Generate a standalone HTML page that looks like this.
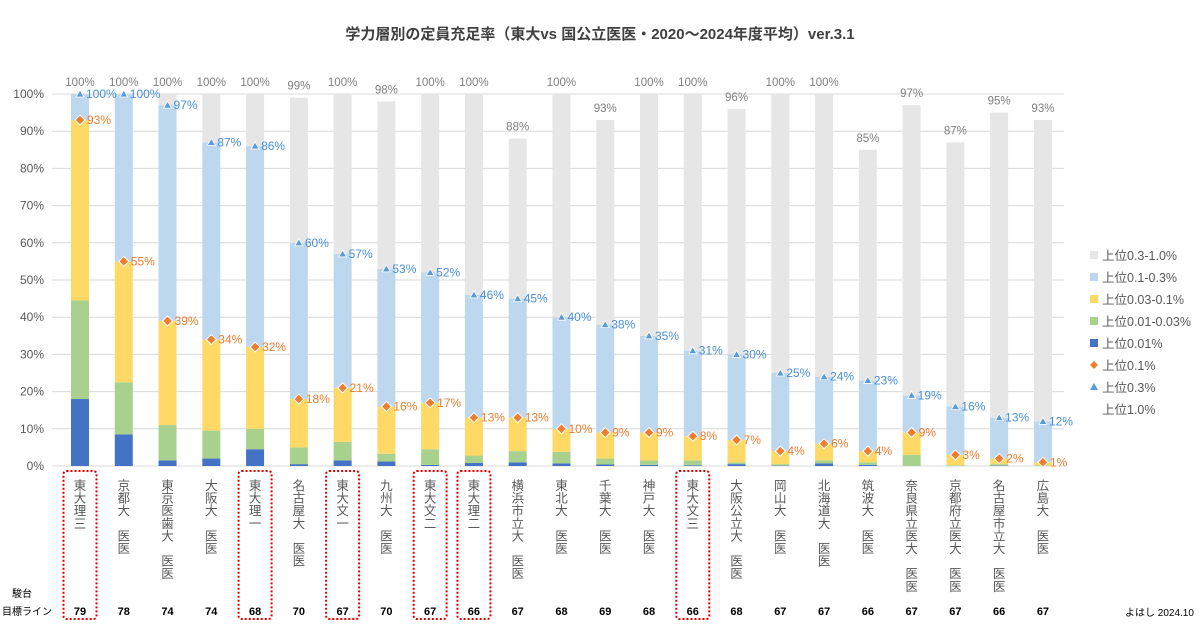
<!DOCTYPE html>
<html><head><meta charset="utf-8"><style>
body{margin:0;background:#fff;}
svg text{font-family:"Liberation Sans","Noto Sans CJK JP",sans-serif;}
</style></head><body>
<svg id="c" width="1200" height="628" xmlns="http://www.w3.org/2000/svg">
<rect x="0" y="0" width="1200" height="628" fill="#fff"/>
<text x="600" y="39" text-anchor="middle" font-size="15" font-weight="bold" fill="#404040">学力層別の定員充足率（東大vs 国公立医医・2020〜2024年度平均）ver.3.1</text>
<g id="grid"></g><g id="bars"></g><g id="labels"></g><g id="legend"></g>
<text x="22" y="597" font-size="10" fill="#000" text-anchor="middle">駿台</text>
<text x="2" y="615" font-size="10" fill="#000">目標ライン</text>
<text x="1125" y="616" font-size="10" fill="#000">よはし 2024.10</text>
</svg>
<script>
const categories=["東大理三","京都大　医医","東京医歯大　医医","大阪大　医医","東大理一","名古屋大　医医","東大文一","九州大　医医","東大文二","東大理二","横浜市立大　医医","東北大　医医","千葉大　医医","神戸大　医医","東大文三","大阪公立大　医医","岡山大　医医","北海道大　医医","筑波大　医医","奈良県立医大　医医","京都府立医大　医医","名古屋市立大　医医","広島大　医医"];
const top001=[18,8.5,1.5,2,4.5,0.5,1.5,1.2,0.3,0.8,1,0.7,0.4,0.3,0.2,0.5,0.1,0.7,0.3,0,0,0.1,0];
const top003=[44.5,22.5,11,9.5,10,5,6.5,3.3,4.5,2.8,4,3.8,2,1.5,1.5,1,0.5,1.5,1,3,0.2,0.5,0.2];
const top01=[93,55,39,34,32,18,21,16,17,13,13,10,9,9,8,7,4,6,4,9,3,2,1];
const top03=[100,100,97,87,86,60,57,53,52,46,45,40,38,35,31,30,25,24,23,19,16,13,12];
const top10=[100,100,100,100,100,99,100,98,100,100,88,100,93,100,100,96,100,100,85,97,87,95,93];
const sundai=[79,78,74,74,68,70,67,70,67,66,67,68,69,68,66,68,67,67,66,67,67,66,67];
const highlighted=[true,false,false,false,true,false,true,false,true,true,false,false,false,false,true,false,false,false,false,false,false,false,false];
const yTicks=[0,10,20,30,40,50,60,70,80,90,100];
const NS="http://www.w3.org/2000/svg";
const y0=466,y1=94;
const yS=v=>y0-(y0-y1)*v/100;
const xS=i=>80+i*43.77;
const bw=18;
function mk(tag,attrs,parent,txt){const e=document.createElementNS(NS,tag);for(const k in attrs)e.setAttribute(k,attrs[k]);if(txt!==undefined)e.textContent=txt;parent.appendChild(e);return e;}
const grid=document.getElementById('grid'),bars=document.getElementById('bars'),labels=document.getElementById('labels'),legend=document.getElementById('legend');
yTicks.forEach(t=>{
  const l=mk('line',{x1:52,x2:1064,y1:yS(t),y2:yS(t),stroke:'#d9d9d9','stroke-width':1},grid);
  
  
  const tx=mk('text',{x:44,y:yS(t)+4,'text-anchor':'end','font-size':12,fill:'#595959'},grid,t+'%');
  
  
});
const cols=['#4472c4','#a9d18e','#ffd966','#bdd7ee','#e7e6e6'];
categories.forEach((c,i)=>{
  const x=xS(i);
  const stack=[0,top001[i],top003[i],top01[i],top03[i],top10[i]];
  for(let s=0;s<5;s++){
    const a=yS(stack[s+1]),b=yS(stack[s]);
    const r=mk('rect',{x:x-bw/2,y:a,width:bw,height:Math.max(0,b-a),fill:cols[s]},bars);
    
    
  }
  // top label
  const t1=mk('text',{x:x,y:yS(top10[i])-8,'text-anchor':'middle','font-size':11.5,fill:'#7f7f7f'},labels,top10[i]+'%');
  
  
  // triangle 0.3
  const ty=yS(top03[i]);
  const tri=mk('path',{d:`M${x-4},${ty+3}L${x+4},${ty+3}L${x},${ty-4}Z`,fill:'#5b9bd5',stroke:'#fff','stroke-width':0.8},labels);
  
  
  const t2=mk('text',{x:x+6,y:ty+4,'font-size':12,fill:'#4a8fd4'},labels,top03[i]+'%');
  
  
  // diamond 0.1
  const dy=yS(top01[i]);
  const dm=mk('path',{d:`M${x},${dy-5}L${x+5},${dy}L${x},${dy+5}L${x-5},${dy}Z`,fill:'#ed7d31',stroke:'#fff','stroke-width':1},labels);
  
  
  const t3=mk('text',{x:x+7,y:dy+4,'font-size':12,fill:'#ed7d31'},labels,top01[i]+'%');
  
  
  // category vertical text
  const chars=[...c];
  chars.forEach((ch,k)=>{
    if(ch==='　')return;
    const ct=mk('text',{x:x,y:490+k*12.6,'text-anchor':'middle','font-size':12.5,fill:'#595959'},labels,ch);
    
    
  });
  const sv=mk('text',{x:x,y:615,'text-anchor':'middle','font-size':11,'font-weight':'bold',fill:'#000'},labels,sundai[i]);
  
  
  if(highlighted[i]){
    const bx=mk('rect',{x:x-16.5,y:471,width:33,height:148,rx:3,fill:'none',stroke:'#e00000','stroke-width':2,'stroke-dasharray':'2 2'},labels);
    
    
  }
});
const legItems=[['上位0.3-1.0%','sq','#e7e6e6'],['上位0.1-0.3%','sq','#bdd7ee'],['上位0.03-0.1%','sq','#ffd966'],['上位0.01-0.03%','sq','#a9d18e'],['上位0.01%','sq','#4472c4'],['上位0.1%','dm','#ed7d31'],['上位0.3%','tr','#5b9bd5'],['上位1.0%','none','']];
legItems.forEach((it,k)=>{
  const y=255+k*22;
  const g=mk('g',{},legend);
  
  
  if(it[1]==='sq')mk('rect',{x:1090,y:y-4,width:8,height:8,fill:it[2]},g);
  if(it[1]==='dm')mk('path',{d:`M1094,${y-4}L1098,${y}L1094,${y+4}L1090,${y}Z`,fill:it[2]},g);
  if(it[1]==='tr')mk('path',{d:`M1090,${y+3}L1098,${y+3}L1094,${y-4}Z`,fill:it[2]},g);
  mk('text',{x:1102,y:y+5,'font-size':12.5,fill:'#595959'},g,it[0]);
});
</script>
</body></html>
